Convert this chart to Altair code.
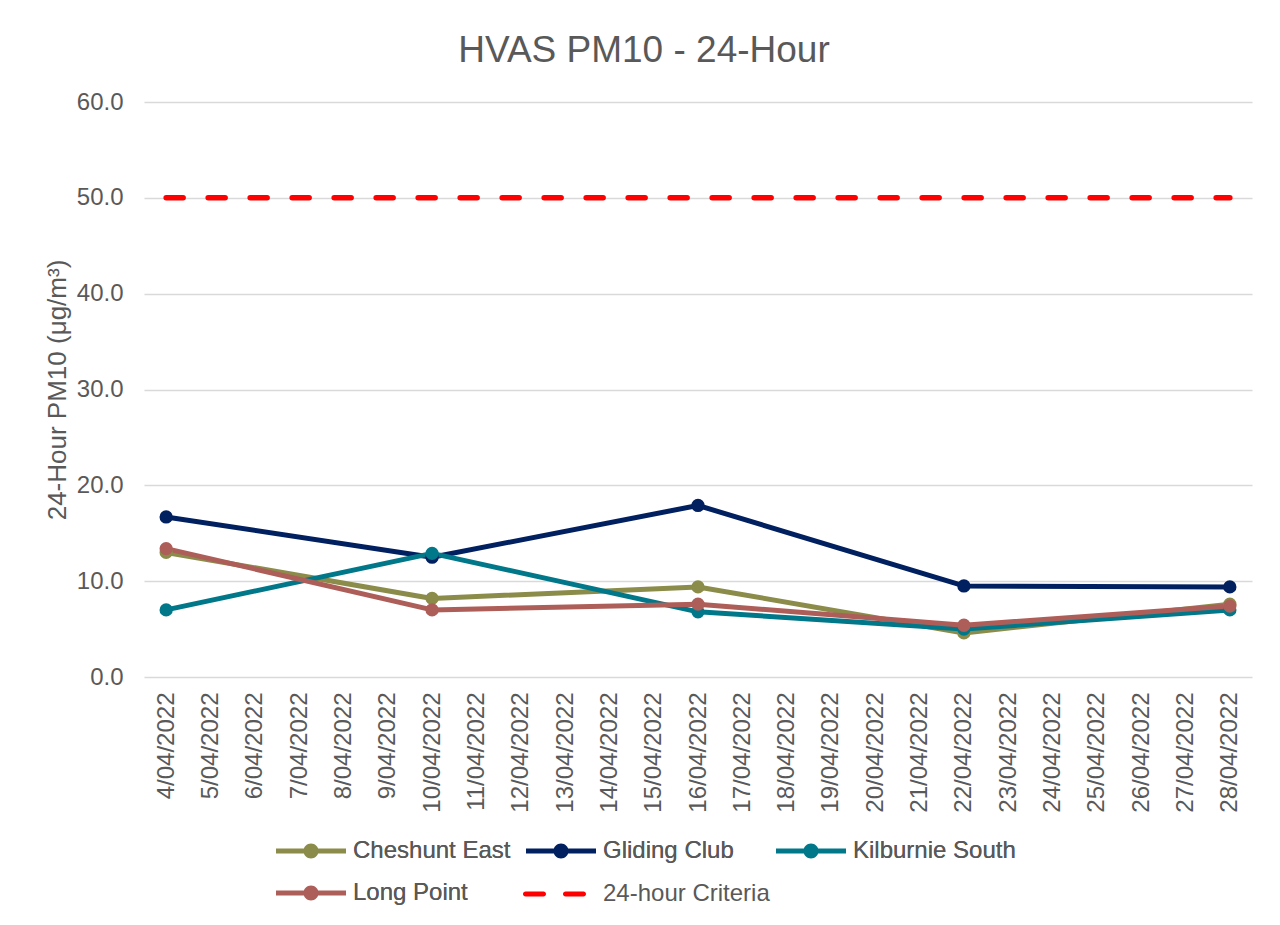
import altair as alt
import pandas as pd

# ---- data ----
all_dates = ["4/04/2022", "5/04/2022", "6/04/2022", "7/04/2022", "8/04/2022",
             "9/04/2022", "10/04/2022", "11/04/2022", "12/04/2022", "13/04/2022",
             "14/04/2022", "15/04/2022", "16/04/2022", "17/04/2022", "18/04/2022",
             "19/04/2022", "20/04/2022", "21/04/2022", "22/04/2022", "23/04/2022",
             "24/04/2022", "25/04/2022", "26/04/2022", "27/04/2022", "28/04/2022"]
sample_dates = ["4/04/2022", "10/04/2022", "16/04/2022", "22/04/2022", "28/04/2022"]

cheshunt_east = [13.0, 8.2, 9.4, 4.6, 7.6]
gliding_club = [16.7, 12.5, 17.9, 9.5, 9.4]
kilburnie_south = [7.0, 12.9, 6.8, 5.0, 7.0]
long_point = [13.4, 7.0, 7.6, 5.4, 7.4]
criteria = [50.0, 50.0, 50.0, 50.0, 50.0]

station_names = ["Cheshunt East", "Gliding Club", "Kilburnie South", "Long Point"]
station_colors = ["#8B8C4A", "#002060", "#00788A", "#AE5E58"]
criteria_name = "24-hour Criteria"
criteria_color = "#FF0000"

rows = []
for name, vals in zip(station_names, [cheshunt_east, gliding_club, kilburnie_south, long_point]):
    for d, v in zip(sample_dates, vals):
        rows.append({"date": d, "value": v, "series": name})
df = pd.DataFrame(rows)
crit_df = pd.DataFrame({"date": sample_dates, "value": criteria, "series": criteria_name})

FONT = "Liberation Sans"
GREY = "#595959"

# legend symbols (units scaled by sqrt(symbolSize)/2 = 5px)
LINE_SYM = ("M-1,-0.5H13V0.5H-1Z "
            "M7.5,0A1.5,1.5 0 1 1 4.5,0A1.5,1.5 0 1 1 7.5,0Z")
DASH_SYM = ("M-0.5,-0.5H3.1A0.5,0.5 0 0 1 3.1,0.5H-0.5A0.5,0.5 0 0 1 -0.5,-0.5Z "
            "M7.5,-0.5H11.1A0.5,0.5 0 0 1 11.1,0.5H7.5A0.5,0.5 0 0 1 7.5,-0.5Z")

legend_common = dict(
    title=None, orient="none", direction="horizontal", padding=0,
    symbolSize=100, symbolStrokeWidth=0,
    labelFontSize=24, labelFont=FONT, labelColor=GREY, labelLimit=0,
)

color_legend = alt.Legend(
    legendX=125, legendY=737, columns=3, gridAlign="all",
    columnPadding=3, rowPadding=18, symbolType=LINE_SYM, labelOffset=60,
    **legend_common,
)
dash_legend = alt.Legend(
    legendX=372, legendY=780, symbolType=DASH_SYM, symbolFillColor=criteria_color,
    labelOffset=63,
    **legend_common,
)

x_enc = alt.X("date:N", sort=all_dates, scale=alt.Scale(domain=all_dates, type="point", padding=0.5),
              axis=alt.Axis(title=None, labelAngle=270, labelAlign="right", labelBaseline="middle",
                            labelPadding=15, labelFontSize=24, labelFont=FONT, labelColor=GREY,
                            labelOverlap=False, ticks=False, domain=False, grid=False))
y_enc = alt.Y("value:Q", scale=alt.Scale(domain=[0, 60], nice=False),
              axis=alt.Axis(title="24-Hour PM10 (μg/m³)", values=[0, 10, 20, 30, 40, 50, 60],
                            format=".1f", labelFontSize=24, labelFont=FONT, labelColor=GREY,
                            labelPadding=21, ticks=False, domain=False, grid=True,
                            gridColor="#D9D9D9", gridWidth=1.5,
                            titleFontSize=26, titleFont=FONT, titleColor=GREY,
                            titleFontWeight="normal", titleAngle=270, titleX=-87, titleY=287.5,
                            titleAlign="center", titleBaseline="middle"))
color_enc = alt.Color("series:N", scale=alt.Scale(domain=station_names, range=station_colors),
                      legend=color_legend, sort=station_names)

lines = alt.Chart(df).mark_line(strokeWidth=5, strokeJoin="round", strokeCap="round").encode(
    x=x_enc, y=y_enc, color=color_enc, detail="series:N")
points = alt.Chart(df).mark_point(filled=True, size=177, opacity=1, shape="circle").encode(
    x=x_enc, y=y_enc, color=color_enc)
crit = alt.Chart(crit_df).mark_line(strokeWidth=5.5, strokeCap="round", color=criteria_color).encode(
    x=x_enc, y=y_enc,
    strokeDash=alt.StrokeDash("series:N",
                              scale=alt.Scale(domain=[criteria_name], range=[[17, 25]]),
                              legend=dash_legend))

chart = alt.layer(lines, points, crit).properties(
    width=1108, height=575,
    background="white",
    autosize=alt.AutoSizeParams(type="none"),
    padding={"left": 136, "top": 94, "right": 20, "bottom": 240},
    title=alt.Title("HVAS PM10 - 24-Hour", fontSize=37, font=FONT, color=GREY,
                    fontWeight="normal", anchor="middle", frame="bounds",
                    baseline="alphabetic", offset=-9, dx=-4),
).resolve_legend(color="independent", strokeDash="independent").configure_view(
    strokeWidth=0, stroke="transparent")

chart.save("out.html", embed_options={"renderer": "svg", "actions": False})
